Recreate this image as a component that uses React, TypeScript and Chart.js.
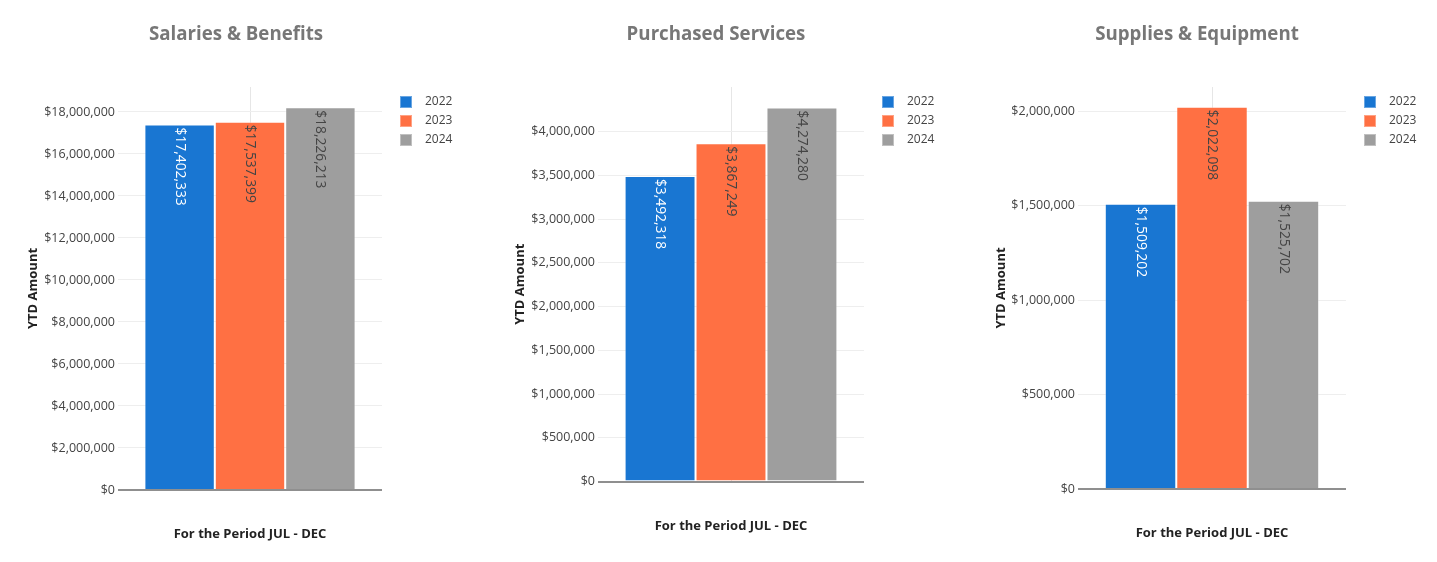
import React, { useEffect, useRef } from "react";
import { Chart, registerables } from "chart.js";

Chart.register(...registerables);

// ---- Data ----
const categories = ["JUL - DEC"];
const years = ["2022", "2023", "2024"];
const chartTitles = ["Salaries & Benefits", "Purchased Services", "Supplies & Equipment"];
const salariesBenefits = [17402333, 17537399, 18226213];
const purchasedServices = [3492318, 3867249, 4274280];
const suppliesEquipment = [1509202, 2022098, 1525702];
const seriesByChart = [salariesBenefits, purchasedServices, suppliesEquipment];
const salariesTicks = [0, 2000000, 4000000, 6000000, 8000000, 10000000, 12000000, 14000000, 16000000, 18000000];
const purchasedTicks = [0, 500000, 1000000, 1500000, 2000000, 2500000, 3000000, 3500000, 4000000];
const suppliesTicks = [0, 500000, 1000000, 1500000, 2000000];
const ticksByChart = [salariesTicks, purchasedTicks, suppliesTicks];
const yAxisMax = [19190000, 4509000, 2127000];
const xAxisTitle = "For the Period JUL - DEC";
const yAxisTitle = "YTD Amount";

// ---- Styles ----
const yearColors = ["#1976D2", "#FF7043", "#9E9E9E"];
const labelColors = ["#ffffff", "#444444", "#444444"];
const FONT = "'Open Sans', 'Noto Sans', sans-serif";
const PANEL_W = 479;
const H = 562;

type Layout = {
  offset: number;
  plotLeft: number;
  plotRight: number;
  top: number;
  bottom: number;
  titleX: number;
  yTitleX: number;
  xTitleY: number;
};

const layouts: Layout[] = [
  { offset: 0, plotLeft: 118, plotRight: 382, top: 87, bottom: 490, titleX: 236, yTitleX: 33, xTitleY: 534 },
  { offset: 479, plotLeft: 119, plotRight: 385, top: 87, bottom: 481.5, titleX: 237, yTitleX: 41, xTitleY: 526 },
  { offset: 958, plotLeft: 120, plotRight: 388, top: 87, bottom: 489, titleX: 239, yTitleX: 43, xTitleY: 533 },
];

const fmt = (v: number) => "$" + Math.round(v).toLocaleString("en-US");

function Panel({ idx }: { idx: number }) {
  const ref = useRef<HTMLCanvasElement | null>(null);
  useEffect(() => {
    const L = layouts[idx];
    const values = seriesByChart[idx];
    const overlay = {
      id: "overlay" + idx,
      afterDatasetsDraw(chart: any) {
        const ctx = chart.ctx;
        ctx.save();
        chart.data.datasets.forEach((ds: any, i: number) => {
          const meta = chart.getDatasetMeta(i);
          const el: any = meta.data[0];
          if (!el) return;
          ctx.save();
          ctx.translate(el.x, el.y + 3);
          ctx.rotate(Math.PI / 2);
          ctx.font = `13.8px ${FONT}`;
          ctx.fillStyle = labelColors[i];
          ctx.textAlign = "left";
          ctx.textBaseline = "middle";
          ctx.fillText(fmt(ds.data[0]), 0, 0);
          ctx.restore();
        });
        ctx.restore();
      },
      afterDraw(chart: any) {
        const ctx = chart.ctx;
        const ca = chart.chartArea;
        ctx.save();
        // Title
        ctx.font = `bold 18.7px ${FONT}`;
        ctx.fillStyle = "#777777";
        ctx.textAlign = "center";
        ctx.textBaseline = "middle";
        ctx.fillText(chartTitles[idx], L.titleX, 35);
        // X axis title
        ctx.font = `bold 13px ${FONT}`;
        ctx.fillStyle = "#222222";
        ctx.fillText(xAxisTitle, (ca.left + ca.right) / 2, L.xTitleY);
        // Y axis title
        ctx.save();
        ctx.translate(L.yTitleX, (ca.top + ca.bottom) / 2);
        ctx.rotate(-Math.PI / 2);
        ctx.fillText(yAxisTitle, 0, 0);
        ctx.restore();
        // Legend
        const lx = ca.right + 18;
        years.forEach((y, i) => {
          const cy = 102 + i * 19;
          ctx.fillStyle = yearColors[i];
          ctx.fillRect(lx, cy - 6, 12, 12);
          ctx.strokeStyle = "rgba(255,255,255,0.35)";
          ctx.lineWidth = 1;
          ctx.strokeRect(lx + 0.5, cy - 5.5, 11, 11);
          ctx.font = `12px ${FONT}`;
          ctx.fillStyle = "#444444";
          ctx.textAlign = "left";
          ctx.textBaseline = "middle";
          ctx.fillText(y, lx + 25, cy);
        });
        ctx.restore();
      },
    };

    const chart = new Chart(ref.current as HTMLCanvasElement, {
      type: "bar",
      data: {
        labels: categories,
        datasets: years.map((y, i) => ({
          label: y,
          data: [values[i]],
          backgroundColor: yearColors[i],
          borderColor: "rgba(255,255,255,0.35)",
          borderWidth: 1,
          categoryPercentage: 0.8,
          barPercentage: 1.0,
        })),
      },
      options: {
        responsive: false,
        animation: false,
        devicePixelRatio: 1,
        layout: {
          padding: { left: 0, top: L.top, right: PANEL_W - L.plotRight, bottom: H - L.bottom },
        },
        plugins: {
          legend: { display: false },
          title: { display: false },
          tooltip: { enabled: false },
        },
        scales: {
          x: {
            ticks: { display: false },
            grid: { display: true, offset: false, color: "#e6e6e6", lineWidth: 1, drawTicks: false },
            border: { display: false },
            afterFit(s: any) {
              s.height = 0;
            },
          },
          y: {
            min: 0,
            max: yAxisMax[idx],
            afterBuildTicks(s: any) {
              s.ticks = ticksByChart[idx].map((v) => ({ value: v }));
            },
            ticks: {
              padding: 3,
              color: "#444444",
              font: { family: FONT, size: 12.5 },
              callback: (v: any) => fmt(Number(v)),
            },
            grid: {
              drawTicks: false,
              color: (c: any) => (c.tick && c.tick.value === 0 ? "#8f8f8f" : "#eeeeee"),
              lineWidth: (c: any) => (c.tick && c.tick.value === 0 ? 2 : 1),
            },
            border: { display: false },
            afterFit(s: any) {
              s.width = L.plotLeft;
            },
          },
        },
      },
      plugins: [overlay],
    } as any);
    return () => chart.destroy();
  }, [idx]);
  return <canvas ref={ref} width={PANEL_W} height={H} style={{ display: "block" }} />;
}

export default function App() {
  return (
    <div style={{ position: "absolute", left: 0, top: 0, width: 1437, height: H, background: "#ffffff" }}>
      {layouts.map((L, i) => (
        <div key={i} style={{ position: "absolute", left: L.offset, top: 0, width: PANEL_W, height: H }}>
          <Panel idx={i} />
        </div>
      ))}
    </div>
  );
}
